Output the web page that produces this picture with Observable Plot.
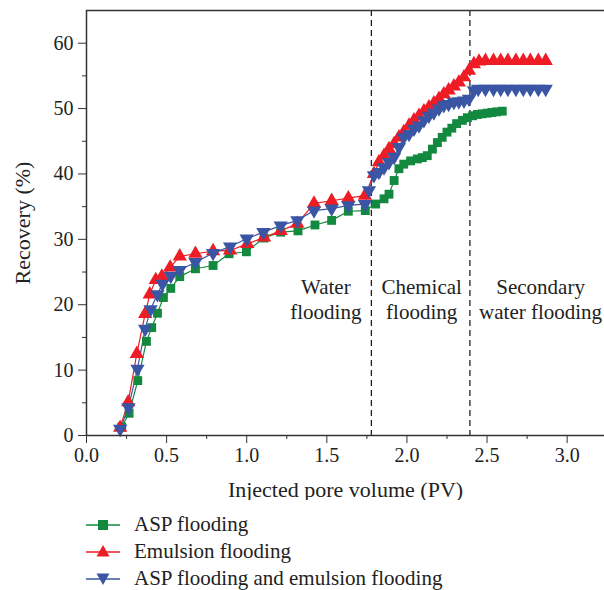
<!DOCTYPE html>
<html>
<head>
<meta charset="utf-8">
<script src="https://cdn.jsdelivr.net/npm/d3@7"></script>
<script src="https://cdn.jsdelivr.net/npm/@observablehq/plot@0.6"></script>
<style>
  body { margin: 0; background: #fff; font-family: "Liberation Serif", serif; }
  #legend { margin-left: 86px; margin-top: 11px; font-size: 21px; color: #222; }
  .row { display: flex; align-items: center; height: 27px; }
  .row svg { margin-right: 14px; }
</style>
</head>
<body>
<div id="chart"></div>
<div id="legend"></div>
<script>
const aspX = [0.22,0.266,0.32,0.374,0.407,0.443,0.48,0.526,0.582,0.68,0.79,0.89,0.998,1.108,1.212,1.32,1.426,1.53,1.634,1.74,1.805,1.857,1.888,1.92,1.95,1.98,2.023,2.065,2.096,2.127,2.159,2.19,2.22,2.25,2.28,2.31,2.346,2.377,2.41,2.44,2.47,2.50,2.53,2.56,2.595];
const aspY = [1.3,3.4,8.4,14.4,16.5,18.7,21.1,22.5,24.3,25.5,26.0,27.8,28.1,30.2,31.1,31.3,32.2,32.9,34.3,34.4,35.4,36.2,36.9,39.0,40.8,41.5,42.0,42.3,42.5,42.8,43.8,44.8,45.6,46.4,47.0,47.7,48.2,48.6,48.9,49.1,49.2,49.3,49.4,49.5,49.6];

const emuX = [0.21,0.26,0.314,0.366,0.395,0.432,0.47,0.522,0.582,0.68,0.79,0.896,1.004,1.108,1.212,1.316,1.42,1.53,1.634,1.738,1.794,1.825,1.857,1.888,1.92,1.95,1.98,2.013,2.044,2.075,2.106,2.137,2.168,2.2,2.23,2.26,2.293,2.324,2.356,2.387,2.418,2.45,2.49,2.54,2.585,2.63,2.68,2.726,2.77,2.82,2.866];
const emuY = [1.2,5.1,12.5,18.6,21.6,23.8,24.3,25.7,27.4,27.8,28.2,28.3,29.3,30.3,31.3,32.4,35.5,35.9,36.3,36.7,40.0,41.8,42.8,43.8,44.6,45.6,46.4,47.4,48.2,48.9,49.6,50.2,50.8,51.5,52.2,52.8,53.4,54.0,54.8,55.8,56.8,57.2,57.3,57.3,57.3,57.3,57.3,57.3,57.3,57.3,57.3];

const bothX = [0.21,0.262,0.318,0.366,0.40,0.443,0.474,0.526,0.582,0.68,0.79,0.896,1.0,1.104,1.212,1.316,1.42,1.53,1.634,1.738,1.763,1.794,1.825,1.857,1.888,1.92,1.95,1.98,2.013,2.044,2.075,2.106,2.137,2.168,2.2,2.23,2.26,2.293,2.324,2.356,2.387,2.418,2.445,2.49,2.54,2.585,2.63,2.68,2.726,2.77,2.82,2.866];
const bothY = [1.0,4.3,10.2,16.3,19.3,21.6,23.2,24.4,25.3,26.5,27.9,28.9,30.1,31.1,32.1,32.9,34.4,34.7,35.2,35.4,37.5,39.8,40.3,41.0,41.8,42.6,44.1,45.6,46.1,46.9,47.4,48.2,48.9,49.4,50.0,50.5,50.7,51.0,51.1,51.2,51.5,52.8,53.0,53.0,53.0,53.0,53.0,53.0,53.0,53.0,53.0,53.0];

const xTicks = [0, 0.5, 1.0, 1.5, 2.0, 2.5, 3.0];
const xMinor = [0.25, 0.75, 1.25, 1.75, 2.25, 2.75];
const yTicks = [0, 10, 20, 30, 40, 50, 60];
const yMinor = [5, 15, 25, 35, 45, 55];
const stageBounds = [1.778, 2.393];
const stageLabels = ["Water\nflooding", "Chemical\nflooding", "Secondary\nwater flooding"];
const stageLabelX = [1.494, 2.092, 2.834];
const stageLabelY = 21.0;

const seriesNames = ["ASP flooding", "Emulsion flooding", "ASP flooding and emulsion flooding"];
const seriesColors = ["#12893e", "#ee1c25", "#3a55a4"];

const toRows = (xs, ys) => xs.map((x, i) => ({x, y: ys[i]}));
const asp = toRows(aspX, aspY);
const emu = toRows(emuX, emuY);
const both = toRows(bothX, bothY);
const labels = stageLabels.map((t, i) => ({t, x: stageLabelX[i], y: stageLabelY}));

const font = "Liberation Serif, serif";
const axisColor = "#333";

const chart = Plot.plot({
  width: 604,
  height: 500,
  marginLeft: 86,
  marginRight: 0,
  marginTop: 10,
  marginBottom: 65,
  style: {fontFamily: font, fontSize: "20px", color: "#222", background: "#fff"},
  x: {domain: [0, 3.233], label: null},
  y: {domain: [0, 65], label: null},
  marks: [
    Plot.ruleX(stageBounds, {stroke: "#222", strokeWidth: 1.3, strokeDasharray: "6,4"}),
    Plot.line(asp, {x: "x", y: "y", stroke: seriesColors[0], strokeWidth: 1.2}),
    Plot.line(emu, {x: "x", y: "y", stroke: seriesColors[1], strokeWidth: 1.2}),
    Plot.line(both, {x: "x", y: "y", stroke: seriesColors[2], strokeWidth: 1.2}),
    Plot.dot(asp, {x: "x", y: "y", symbol: "square", r: 5, fill: seriesColors[0]}),
    Plot.dot(emu, {x: "x", y: "y", symbol: "triangle", r: 5.3, fill: seriesColors[1]}),
    Plot.dot(both, {x: "x", y: "y", symbol: "triangle", r: 5.3, rotate: 180, fill: seriesColors[2]}),
    Plot.text(labels, {x: "x", y: "y", text: "t", fontSize: 21, lineHeight: 1.19, fill: "#222"}),
    Plot.ruleY([0], {stroke: axisColor, strokeWidth: 1.5}),
    Plot.ruleY([65], {stroke: axisColor, strokeWidth: 1.5}),
    Plot.ruleX([0], {stroke: axisColor, strokeWidth: 1.5}),
    Plot.axisX({ticks: xTicks, tickSize: 8, tickPadding: 4, tickFormat: d3.format(".1f"), fontSize: 20, stroke: axisColor, label: null}),
    Plot.axisX({ticks: [], fontSize: 22, label: "Injected pore volume (PV)", labelAnchor: "center", labelArrow: "none", labelOffset: 61}),
    Plot.axisX({ticks: xMinor, tickSize: 4, tickFormat: () => "", stroke: axisColor, label: null}),
    Plot.axisY({ticks: yTicks, tickSize: 8, tickPadding: 5, fontSize: 20, stroke: axisColor, label: null}),
    Plot.axisY({ticks: [], fontSize: 22, label: "Recovery (%)", labelAnchor: "center", labelArrow: "none", labelOffset: 72}),
    Plot.axisY({ticks: yMinor, tickSize: 4, tickFormat: () => "", stroke: axisColor, label: null})
  ]
});
document.getElementById("chart").appendChild(chart);

// Legend
const legend = document.getElementById("legend");
const symbols = ["square", "up", "down"];
seriesNames.forEach((name, i) => {
  const row = document.createElement("div");
  row.className = "row";
  const c = seriesColors[i];
  let shape;
  if (symbols[i] === "square") shape = `<rect x="12" y="7" width="10" height="10" fill="${c}"/>`;
  else if (symbols[i] === "up") shape = `<path d="M17,5 L23.5,16.5 L10.5,16.5 Z" fill="${c}"/>`;
  else shape = `<path d="M17,18 L23.5,6.5 L10.5,6.5 Z" fill="${c}"/>`;
  row.innerHTML = `<svg width="34" height="24"><line x1="0" x2="34" y1="12" y2="12" stroke="${c}" stroke-width="1.3"/>${shape}</svg><span>${name}</span>`;
  legend.appendChild(row);
});
</script>
</body>
</html>
